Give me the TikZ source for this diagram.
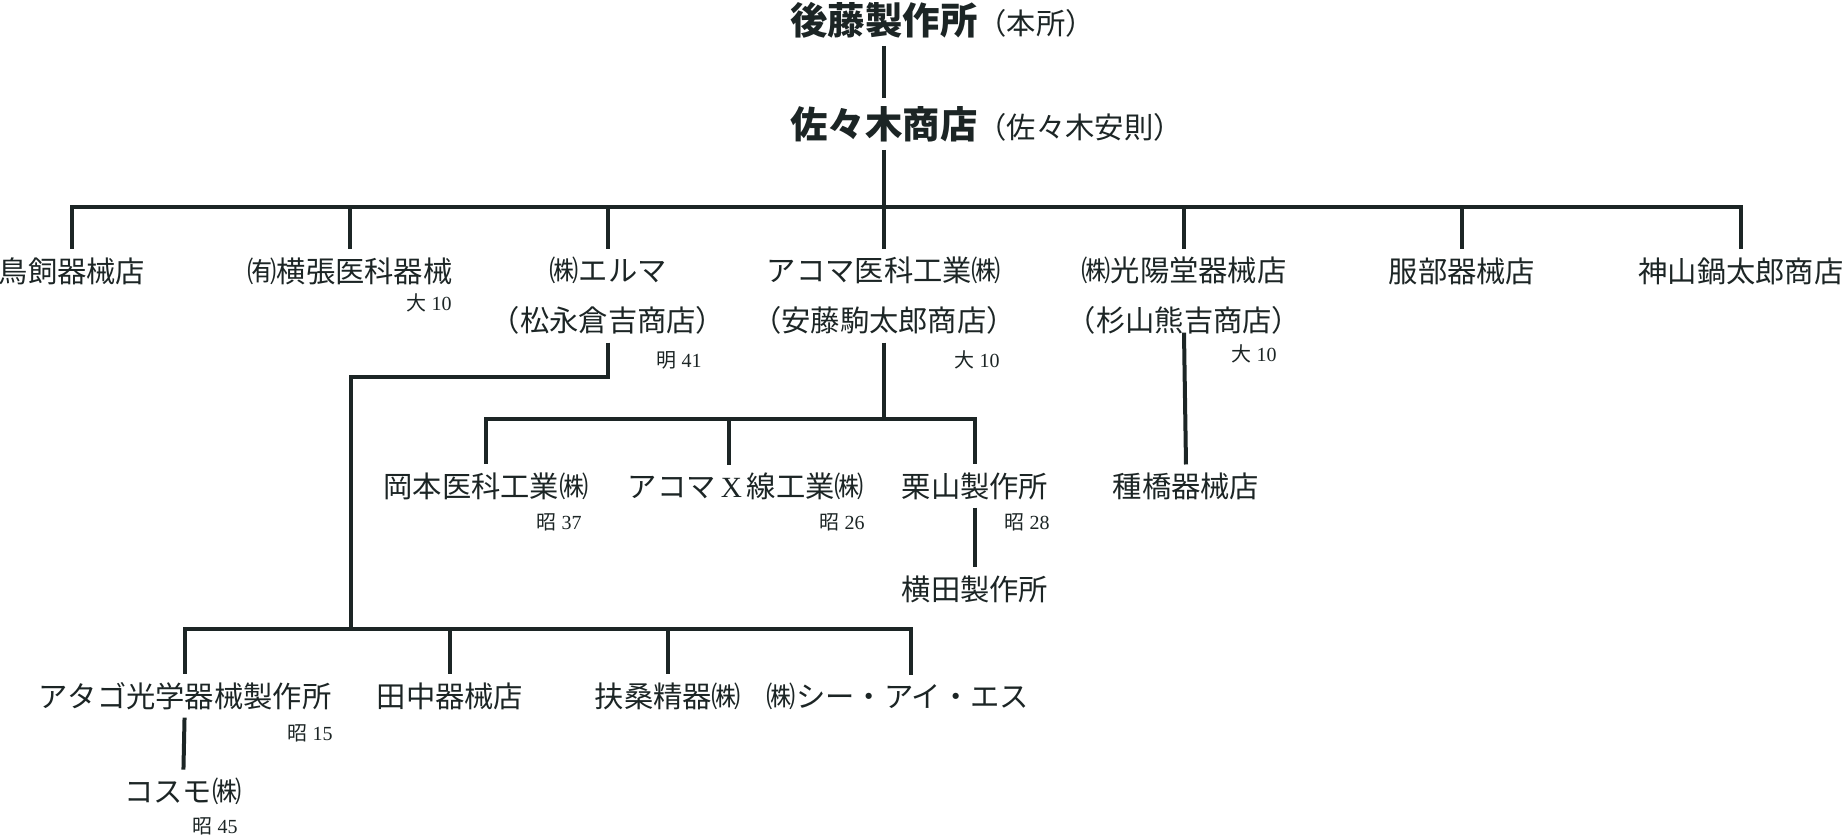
\documentclass[tikz,border=0pt]{standalone}
\usepackage{fontspec}
\setmainfont{Liberation Serif}
\newfontfamily\cjk{Noto Sans CJK JP}
\usetikzlibrary{positioning}
\definecolor{tinta}{RGB}{28,37,37}
\newcommand{\nota}[2]{{\cjk #1} #2}

\begin{document}
\begin{tikzpicture}[x=0.5pt, y=-0.5pt,
    rama/.style={draw=tinta, line width=2pt},
    nombre/.style={text=tinta, inner sep=0pt, outer sep=4pt, align=center,
        font=\cjk\fontsize{14.65pt}{25pt}\selectfont},
    titulo/.style={nombre, font=\cjk\bfseries\fontsize{18.7pt}{22pt}\selectfont},
    anio/.style={text=tinta, inner sep=0pt, anchor=east, font=\fontsize{10pt}{12pt}\selectfont}]
    \useasboundingbox (0,0) rectangle (1844,838);

    % Dibuja la casa matriz y su sucesor
    \node[titulo] (honsha) at (884,20) {後藤製作所};
    \node[nombre, base right=-8pt of honsha] (honsha-p) {（本所）};
    \node[titulo] (sasaki) at (884,124) {佐々木商店};
    \node[nombre, base right=-8pt of sasaki] (sasaki-p) {（佐々木安則）};
    \draw[rama] (honsha) -- (sasaki);

    % Dibuja la primera fila de tiendas
    \node[nombre] (torikai) at (72,271) {鳥飼器械店};
    \node[nombre] (yokohari) at (350,271) {㈲横張医科器械};
    \node[nombre] (elma) at (608,296) {㈱エルマ\\（松永倉吉商店）};
    \node[nombre] (akoma) at (884,296) {アコマ医科工業㈱\\（安藤駒太郎商店）};
    \node[nombre] (koyodo) at (1184,296) {㈱光陽堂器械店\\（杉山熊吉商店）};
    \node[nombre] (hattori) at (1462,271) {服部器械店};
    \node[nombre] (kamiyama) at (1741,271) {神山鍋太郎商店};
    \node[anio] (a-yokohari) at (452,303) {\nota{大}{10}};
    \node[anio] (a-elma) at (702,360) {\nota{明}{41}};
    \node[anio] (a-akoma) at (1000,360) {\nota{大}{10}};
    \node[anio] (a-koyodo) at (1277,354) {\nota{大}{10}};

    % Dibuja la barra de la primera fila
    \coordinate (b1) at (884,207);
    \draw[rama] (sasaki) -- (b1);
    \draw[rama] (b1) -| (torikai.north);
    \draw[rama] (b1) -| (yokohari.north);
    \draw[rama] (b1) -| (elma.north);
    \draw[rama] (b1) -| (akoma.north);
    \draw[rama] (b1) -| (koyodo.north);
    \draw[rama] (b1) -| (hattori.north);
    \draw[rama] (b1) -| (kamiyama.north);

    % Dibuja las ramas de la segunda fila
    \node[nombre] (okamoto) at (486,486) {岡本医科工業㈱};
    \node[nombre] (xsen) at (746,486) {アコマ\,{\rmfamily X}\,線工業㈱};
    \node[nombre] (kuriyama) at (975,486) {栗山製作所};
    \node[nombre] (yokota) at (975,589) {横田製作所};
    \node[nombre] (tanehashi) at (1186,486) {種橋器械店};
    \node[anio] (a-okamoto) at (582,522) {\nota{昭}{37}};
    \node[anio] (a-xsen) at (865,522) {\nota{昭}{26}};
    \node[anio] (a-kuriyama) at (1050,522) {\nota{昭}{28}};
    \coordinate (b2) at (884,419);
    \draw[rama] (akoma) -- (b2);
    \draw[rama] (b2) -| (okamoto.north);
    \draw[rama] (b2) -| ([xshift=-8.5pt]xsen.north);
    \draw[rama] (b2) -| (kuriyama.north);
    \draw[rama] (kuriyama) -- (yokota);
    \draw[rama] ([yshift=5pt]koyodo.south) -- (tanehashi.north);

    % Dibuja las ramas de la tercera fila
    \node[nombre] (atago) at (185,696) {アタゴ光学器械製作所};
    \node[nombre] (tanaka) at (450,696) {田中器械店};
    \node[nombre] (fuso) at (668,696) {扶桑精器㈱};
    \node[nombre] (cis) at (898,696) {㈱シー・アイ・エス};
    \node[nombre] (kosumo) at (183,791) {コスモ㈱};
    \node[anio] (a-atago) at (333,733) {\nota{昭}{15}};
    \node[anio] (a-kosumo) at (238,826) {\nota{昭}{45}};
    \coordinate (k3) at (351,377);
    \coordinate (b3) at (351,629);
    \draw[rama] (elma.south) |- (k3) -- (b3);
    \draw[rama] (b3) -| (atago.north);
    \draw[rama] (b3) -| (tanaka.north);
    \draw[rama] (b3) -| (fuso.north);
    \draw[rama] (b3) -| ([xshift=6.5pt]cis.north);
    \draw[rama] (atago) -- (kosumo);
\end{tikzpicture}
\end{document}
